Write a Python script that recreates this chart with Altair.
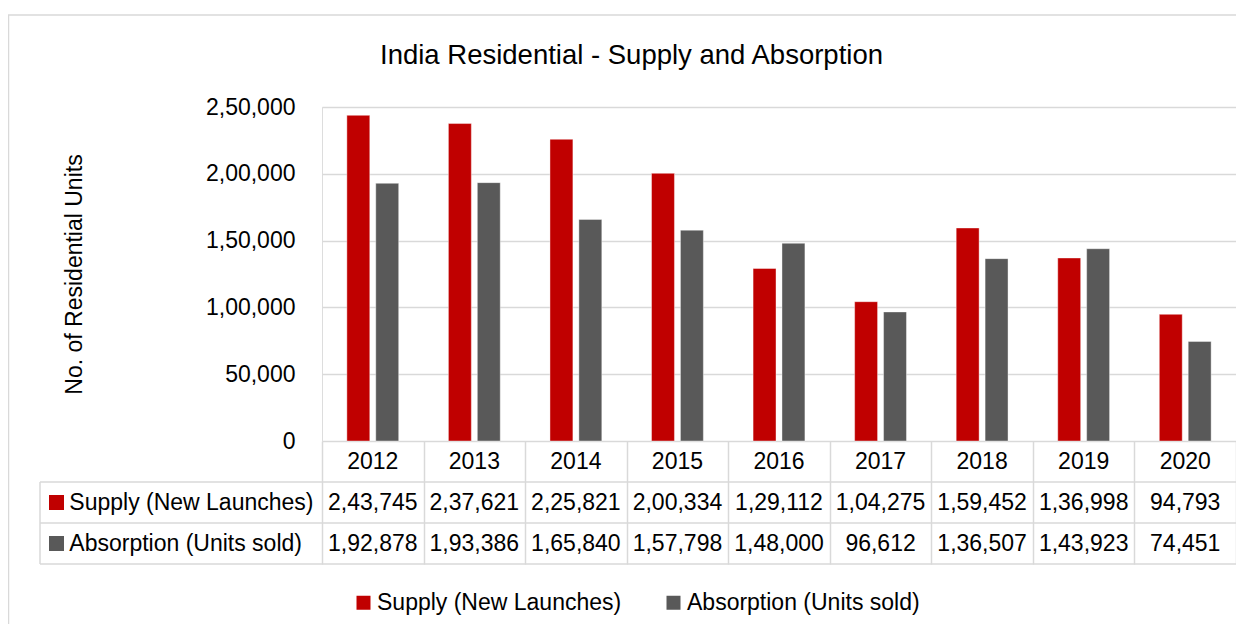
import altair as alt
import pandas as pd

# ---------------- data ----------------
years = ["2012", "2013", "2014", "2015", "2016", "2017", "2018", "2019", "2020"]
supply = [243745, 237621, 225821, 200334, 129112, 104275, 159452, 136998, 94793]
absorption = [192878, 193386, 165840, 157798, 148000, 96612, 136507, 143923, 74451]
series_names = ["Supply (New Launches)", "Absorption (Units sold)"]
series_colors = ["#C00000", "#595959"]
y_tick_values = [0, 50000, 100000, 150000, 200000, 250000]
y_tick_labels = ["0", "50,000", "1,00,000", "1,50,000", "2,00,000", "2,50,000"]
title_text = "India Residential - Supply and Absorption"
y_title = "No. of Residential Units"
header_row = "Year"

# ---------------- helpers ----------------
def indian(n):
    s = str(int(n))
    if len(s) <= 3:
        return s
    last3, rest = s[-3:], s[:-3]
    parts = []
    while len(rest) > 2:
        parts.insert(0, rest[-2:])
        rest = rest[:-2]
    if rest:
        parts.insert(0, rest)
    return ",".join(parts) + "," + last3

FONT = "Liberation Sans, Arial, sans-serif"
GRID = "#d9d9d9"
FS = 23

W, H = 914, 334
ROW_H = 41
TABLE_BOTTOM = H + 3 * ROW_H
LABEL_X = -282

bars_df = pd.DataFrame(
    [{"year": y, "series": series_names[0], "value": v} for y, v in zip(years, supply)]
    + [{"year": y, "series": series_names[1], "value": v} for y, v in zip(years, absorption)]
)
cells_df = pd.DataFrame(
    [{"year": y, "row": header_row, "text": y} for y in years]
    + [{"year": y, "row": series_names[0], "text": indian(v)} for y, v in zip(years, supply)]
    + [{"year": y, "row": series_names[1], "text": indian(v)} for y, v in zip(years, absorption)]
)
rows_df = pd.DataFrame({"series": series_names})
one = pd.DataFrame({"a": [0]})

label_expr = " : ".join(
    f"datum.value == {v} ? '{l}'" for v, l in zip(y_tick_values, y_tick_labels)
) + " : ''"

color_scale = alt.Scale(domain=series_names, range=series_colors)
row_scale = alt.Scale(type="band", domain=[header_row] + series_names,
                      range=[H, TABLE_BOTTOM], paddingInner=0, paddingOuter=0)

x_axis = alt.Axis(title=None, labels=False, domain=False, grid=False,
                  ticks=True, tickBand="extent", tickSize=3 * ROW_H,
                  tickColor=GRID, tickWidth=1.5)
x_enc = alt.X("year:N", sort=years,
              scale=alt.Scale(paddingInner=0, paddingOuter=0), axis=x_axis)

bars = alt.Chart(bars_df).mark_bar(stroke="white", strokeWidth=0.8, strokeOpacity=0.5).encode(
    x=x_enc,
    xOffset=alt.XOffset("series:N", sort=series_names,
                        scale=alt.Scale(paddingInner=0.207, paddingOuter=0.86)),
    y=alt.Y("value:Q",
            scale=alt.Scale(domain=[0, 250000], nice=False),
            axis=alt.Axis(values=y_tick_values, labelExpr=label_expr,
                          grid=True, gridColor=GRID, gridWidth=1.5,
                          domain=False, ticks=False, labelPadding=27,
                          labelFontSize=FS, labelFont=FONT, labelColor="black",
                          title=y_title, titleFontSize=FS, titleFont=FONT,
                          titleFontWeight="normal", titleColor="black",
                          titleX=-241, titleY=H / 2, titleAngle=270,
                          titleBaseline="alphabetic", titleAlign="center")),
    color=alt.Color("series:N", scale=color_scale,
                    legend=alt.Legend(orient="none", legendX=30, legendY=484,
                                      direction="horizontal", title=None,
                                      symbolType="square", symbolSize=196,
                                      symbolStrokeWidth=0, symbolOpacity=1,
                                      labelFontSize=FS, labelFont=FONT,
                                      labelColor="black", columnPadding=40,
                                      labelOffset=2, padding=0, labelLimit=0)),
)

cells = alt.Chart(cells_df).mark_text(fontSize=FS, font=FONT, color="black",
                                      baseline="middle", align="center").encode(
    x=x_enc,
    y=alt.Y("row:N", scale=row_scale, axis=None, bandPosition=0.5),
    text="text:N",
)

row_labels = alt.Chart(rows_df).mark_text(fontSize=FS, font=FONT, color="black",
                                          baseline="middle", align="left").encode(
    x=alt.value(LABEL_X + 29.3),
    y=alt.Y("series:N", scale=row_scale, axis=None, bandPosition=0.5),
    text="series:N",
)

squares = alt.Chart(rows_df).mark_point(shape="square", size=225, filled=True,
                                        opacity=1, strokeWidth=0).encode(
    x=alt.value(LABEL_X + 16.5),
    y=alt.Y("series:N", scale=row_scale, axis=None, bandPosition=0.5),
    color=alt.Color("series:N", scale=color_scale, legend=None),
)

h_rules = [
    alt.Chart(one).mark_rule(color=GRID, strokeWidth=1.5).encode(
        x=alt.value(LABEL_X), x2=alt.value(W), y=alt.value(H + k * ROW_H))
    for k in (1, 2, 3)
]
v_rule = alt.Chart(one).mark_rule(color=GRID, strokeWidth=1.5).encode(
    x=alt.value(LABEL_X), y=alt.value(H + ROW_H), y2=alt.value(TABLE_BOTTOM))

border = alt.Chart(one).mark_rect(fill="transparent", stroke=GRID, strokeWidth=1.5).encode(
    x=alt.value(-313.5), x2=alt.value(W + 100), y=alt.value(-92), y2=alt.value(H + 400))

table = alt.layer(cells, row_labels, squares, *h_rules, v_rule)

chart = alt.layer(border, bars, table).resolve_scale(y="independent").properties(
    width=W, height=H,
    title=alt.Title(title_text, fontSize=27.5, font=FONT, fontWeight="normal",
                    color="black", anchor="middle", frame="group", dx=-147.5,
                    offset=-77, baseline="alphabetic"),
    padding={"left": 314, "top": 99, "right": 0, "bottom": 183},
    autosize=alt.AutoSizeParams(type="none"),
).configure_view(stroke=None).configure(background="white")

chart.save("out.html", embed_options={"renderer": "svg", "actions": False})
